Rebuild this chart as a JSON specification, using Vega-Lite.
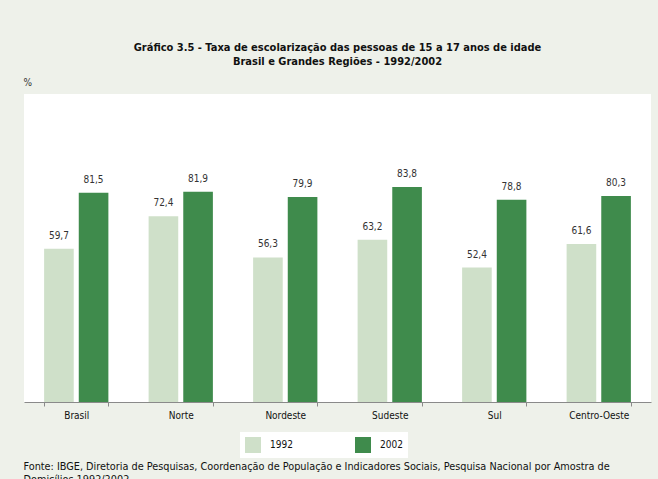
{
  "$schema": "https://vega.github.io/schema/vega-lite/v6.json",
  "width": 627,
  "height": 308,
  "autosize": {"type": "none"},
  "padding": {"left": 24, "top": 94, "right": 7, "bottom": 77},
  "background": "#eef1ea",
  "title": {
    "text": ["Gráfico 3.5 - Taxa de escolarização das pessoas de 15 a 17 anos de idade", "Brasil e Grandes Regiões - 1992/2002"],
    "anchor": "middle",
    "fontSize": 11,
    "fontWeight": "bold",
    "font": "DejaVu Sans Condensed, sans-serif",
    "color": "#111",
    "lineHeight": 14,
    "offset": 10
  },
  "config": {
    "locale": {"number": {"decimal": ",", "thousands": ".", "grouping": [3], "currency": ["R$", ""]}},
    "font": "DejaVu Sans Condensed, sans-serif",
    "view": {"fill": "white", "stroke": null}
  },
  "data": {
    "values": [
      {"regiao": "Brasil", "ano": "1992", "taxa": 59.7},
      {"regiao": "Brasil", "ano": "2002", "taxa": 81.5},
      {"regiao": "Norte", "ano": "1992", "taxa": 72.4},
      {"regiao": "Norte", "ano": "2002", "taxa": 81.9},
      {"regiao": "Nordeste", "ano": "1992", "taxa": 56.3},
      {"regiao": "Nordeste", "ano": "2002", "taxa": 79.9},
      {"regiao": "Sudeste", "ano": "1992", "taxa": 63.2},
      {"regiao": "Sudeste", "ano": "2002", "taxa": 83.8},
      {"regiao": "Sul", "ano": "1992", "taxa": 52.4},
      {"regiao": "Sul", "ano": "2002", "taxa": 78.8},
      {"regiao": "Centro-Oeste", "ano": "1992", "taxa": 61.6},
      {"regiao": "Centro-Oeste", "ano": "2002", "taxa": 80.3}
    ]
  },
  "encoding": {
    "x": {
      "field": "regiao",
      "type": "nominal",
      "sort": null,
      "scale": {"paddingInner": 0.385, "paddingOuter": 0.1925},
      "axis": {
        "labelAngle": 0,
        "tickBand": "extent",
        "domainColor": "#8a8a8a",
        "tickColor": "#8a8a8a",
        "tickSize": 4,
        "labelFontSize": 10,
        "labelColor": "#111",
        "labelPadding": 4,
        "title": ["Fonte: IBGE, Diretoria de Pesquisas, Coordenação de População e Indicadores Sociais, Pesquisa Nacional por Amostra de", "Domicílios 1992/2002."],
        "titleFontSize": 10.8,
        "titleFontWeight": "normal",
        "titleColor": "#111",
        "titleAnchor": "start",
        "titleAlign": "left",
        "titleBaseline": "alphabetic",
        "titleLineHeight": 13,
        "titleX": -1,
        "titleY": 67
      }
    },
    "xOffset": {
      "field": "ano",
      "type": "nominal",
      "scale": {"paddingInner": 0.145, "paddingOuter": 0}
    },
    "y": {
      "field": "taxa",
      "type": "quantitative",
      "scale": {"domain": [0, 120], "nice": false},
      "axis": {
        "title": "%",
        "titleAngle": 0,
        "titleAlign": "left",
        "titleBaseline": "middle",
        "titleX": -1,
        "titleY": -12,
        "titleFontSize": 10,
        "titleFontWeight": "normal",
        "titleColor": "#333",
        "labels": false,
        "ticks": false,
        "domain": false,
        "grid": false
      }
    }
  },
  "layer": [
    {
      "mark": {"type": "bar"},
      "encoding": {
        "color": {
          "field": "ano",
          "type": "nominal",
          "scale": {"domain": ["1992", "2002"], "range": ["#cfe0c9", "#3f8b4c"]},
          "legend": {
            "orient": "none",
            "legendX": 216,
            "legendY": 338,
            "direction": "horizontal",
            "title": null,
            "fillColor": "white",
            "padding": 5,
            "symbolType": "square",
            "symbolSize": 256,
            "symbolStrokeWidth": 0,
            "symbolOpacity": 1,
            "labelFontSize": 10,
            "labelColor": "#111",
            "labelOffset": 9,
            "columnPadding": 62
          }
        }
      }
    },
    {
      "mark": {"type": "text", "baseline": "bottom", "dy": -8, "fontSize": 10, "color": "#333"},
      "encoding": {
        "text": {"field": "taxa", "type": "quantitative", "format": ".1f"}
      }
    }
  ]
}
